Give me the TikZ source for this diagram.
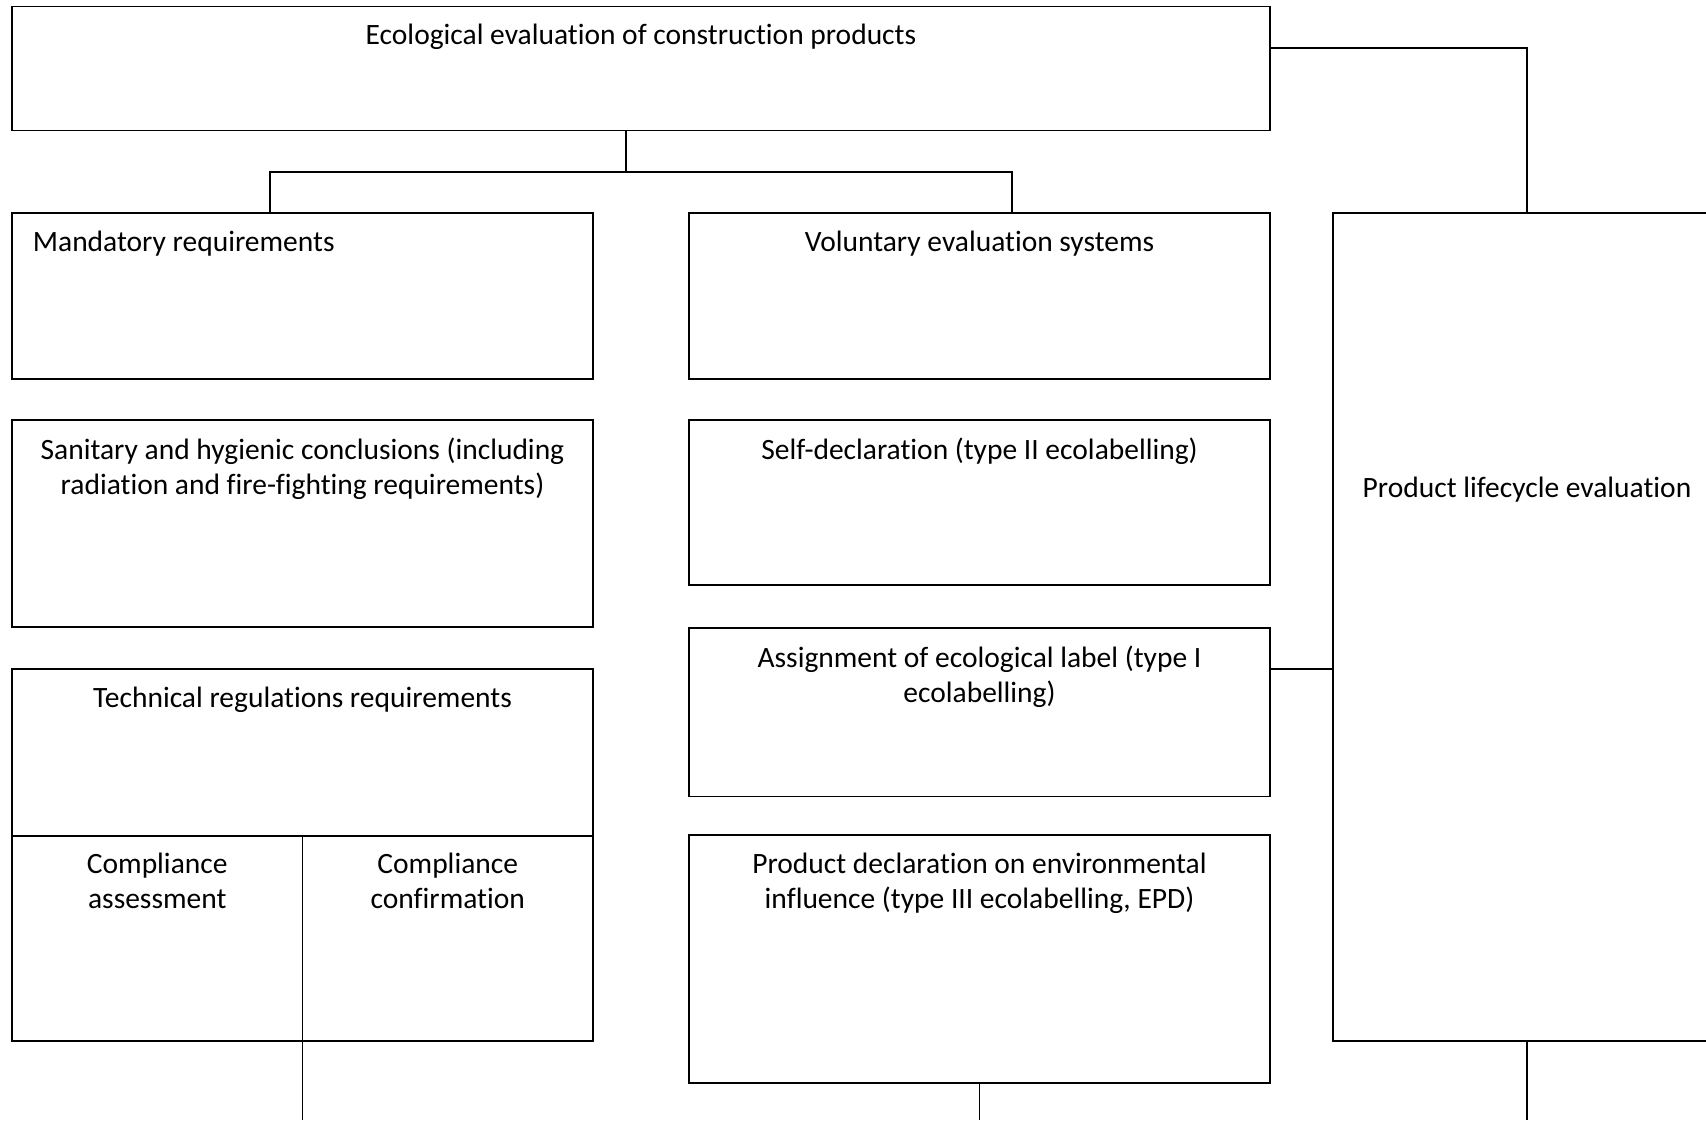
\documentclass[tikz,border=0pt]{standalone}
\usepackage{fontspec}
\setmainfont[Ligatures=NoCommon]{Carlito}
\begin{document}
\begin{tikzpicture}[x=1pt,y=-1pt,line width=1.8pt,
  box/.style={draw,rectangle,inner sep=0pt,outer sep=0pt,anchor=north west},
  txt/.style={font=\fontsize{29.5}{35}\selectfont,align=center,inner sep=0pt,anchor=north}]
\useasboundingbox[fill=white] (0,0) rectangle (1706,1120);
% boxes
\node[box,minimum width=1258pt,minimum height=124pt] (top) at (12,6.5) {};
\node[box,minimum width=581pt,minimum height=166pt] (mand) at (12,213) {};
\node[box,minimum width=581pt,minimum height=166pt] (vol) at (689,213) {};
\node[box,minimum width=581pt,minimum height=207pt] (san) at (12,420) {};
\node[box,minimum width=581pt,minimum height=165pt] (self) at (689,420) {};
\node[box,minimum width=581pt,minimum height=166.6pt] (tech) at (12,669) {};
\node[box,minimum width=290.5pt,minimum height=205.4pt] (compa) at (12,835.6) {};
\node[box,minimum width=290.5pt,minimum height=205.4pt] (compb) at (302.5,835.6) {};
\node[box,minimum width=581pt,minimum height=168.4pt] (assign) at (689,628) {};
\node[box,minimum width=581pt,minimum height=248pt] (pde) at (689,835) {};
\node[box,minimum width=388pt,minimum height=828pt] (life) at (1333,213) {};
% texts
\node[txt] (ttop) at ([yshift=-17pt]top.north) {Ecological evaluation of construction products};
\node[txt,anchor=north west] (tmand) at ([xshift=20pt,yshift=-17pt]mand.north west) {Mandatory requirements};
\node[txt] (tvol) at ([yshift=-17pt]vol.north) {Voluntary evaluation systems};
\node[txt] (tsan) at ([yshift=-17pt]san.north) {Sanitary and hygienic conclusions (including\\radiation and fire-fighting requirements)};
\node[txt] (tself) at ([yshift=-17pt]self.north) {Self-declaration (type II ecolabelling)};
\node[txt] (ttech) at ([yshift=-17pt]tech.north) {Technical regulations requirements};
\node[txt] (tcompa) at ([yshift=-17pt]compa.north) {Compliance\\assessment};
\node[txt] (tcompb) at ([yshift=-17pt]compb.north) {Compliance\\confirmation};
\node[txt] (tassign) at ([yshift=-17pt]assign.north) {Assignment of ecological label (type I\\ecolabelling)};
\node[txt] (tpde) at ([yshift=-17pt]pde.north) {Product declaration on environmental\\influence (type III ecolabelling, EPD)};
\node[txt,anchor=center] (tlife) at (1527,490) {Product lifecycle evaluation};
% connectors
\coordinate (jt) at (625.6,172);
\coordinate (jl) at (270,172);
\coordinate (jr) at (1012,172);
\coordinate (jlc) at (1527,48);
\coordinate (ja) at (0,669);
\coordinate (bot) at (0,1120);
\draw (jt |- top.south) -- (jt);
\draw (jl |- mand.north) -- (jl) -- (jr) -- (jr |- vol.north);
\draw (top.east |- jlc) -- (jlc) -- (life.north);
\draw (assign.east |- ja) -- (life.west |- ja);
\draw (compa.south east) -- (compa.south east |- bot);
\draw (pde.south) -- (pde.south |- bot);
\draw (life.south) -- (life.south |- bot);
\end{tikzpicture}
\end{document}
